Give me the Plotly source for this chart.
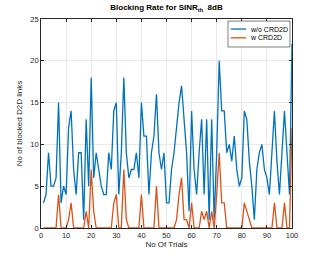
import plotly.graph_objects as go

trials = list(range(1, 101))

blocked_without = [
    3, 4, 9, 5, 5, 6, 15, 3, 5, 4,
    12, 14, 7, 4, 9, 9, 1, 13, 5, 18,
    6, 9, 7, 5, 4, 4, 9, 7, 14, 15,
    4, 9, 18, 9, 6, 7, 7, 9, 6, 15,
    11, 11, 4, 9, 11, 16, 9, 7, 9, 3,
    3, 7, 9, 12, 15, 17, 13, 9, 2, 14,
    7, 4, 9, 13, 4, 13, 1, 13, 1, 9,
    20, 14, 14, 9, 10, 8, 11, 7, 5, 6,
    14, 13, 8, 5, 1, 7, 9, 10, 7, 6,
    4, 9, 14, 8, 4, 9, 14, 9, 4, 22,
]

blocked_with = [
    0, 0, 0, 0, 0, 0, 4, 0, 0, 0,
    1, 3, 0, 0, 0, 0, 0, 2, 0, 7,
    2, 0, 0, 0, 0, 0, 0, 0, 3, 4,
    0, 0, 7, 1, 0, 0, 0, 0, 0, 4,
    0, 0, 0, 0, 0, 5, 0, 0, 0, 0,
    0, 0, 0, 1, 4, 6, 1, 1, 0, 3,
    0, 0, 0, 2, 1, 2, 0, 2, 0, 4,
    9, 3, 3, 0, 0, 0, 0, 0, 0, 0,
    3, 2, 1, 0, 0, 0, 0, 0, 0, 0,
    0, 0, 3, 0, 0, 0, 3, 0, 0, 12,
]

series_names = ["w/o CRD2D", "w CRD2D"]
series_colors = ["#0072BD", "#D95319"]

x_ticks = [0, 10, 20, 30, 40, 50, 60, 70, 80, 90, 100]
y_ticks = [0, 5, 10, 15, 20, 25]

FONT = "Liberation Sans, Arial, Helvetica, sans-serif"

fig = go.Figure()
for yvals, name, color in zip([blocked_without, blocked_with], series_names, series_colors):
    fig.add_trace(go.Scatter(x=trials, y=yvals, mode="lines", name=name,
                             line=dict(color=color, width=1.3)))

axis_common = dict(
    showline=True, mirror="ticks", linecolor="#262626", linewidth=0.8,
    ticks="inside", ticklen=3, tickwidth=0.6, tickcolor="#262626",
    showgrid=True, gridcolor="#e8e8e8", gridwidth=0.6,
    zeroline=False, automargin=False,
    tickfont=dict(family=FONT, size=7.5, color="#262626"),
)

# compact legend box drawn in paper coordinates (native legend rows are too tall)
legend_box = dict(x0=0.745, x1=0.992, y0=0.866, y1=0.990)
legend_rows_y = [0.952, 0.910]
shapes = [dict(type="rect", xref="paper", yref="paper", **legend_box,
               line=dict(color="#262626", width=0.6), fillcolor="white", layer="above")]
annotations = []
for ry, name, color in zip(legend_rows_y, series_names, series_colors):
    shapes.append(dict(type="line", xref="paper", yref="paper",
                       x0=0.756, x1=0.817, y0=ry, y1=ry,
                       line=dict(color=color, width=1.3), layer="above"))
    annotations.append(dict(text=name, xref="paper", yref="paper", x=0.826, y=ry,
                            xanchor="left", yanchor="middle", showarrow=False,
                            font=dict(family=FONT, size=7, color="black")))

fig.update_layout(
    width=321, height=256,
    margin=dict(l=41, r=29, t=19, b=28),
    paper_bgcolor="white", plot_bgcolor="white",
    title=dict(text="<b>Blocking Rate for SINR<sub>th</sub>  8dB</b>",
               x=0.5, xref="paper", xanchor="center",
               y=0.972, yref="container", yanchor="middle",
               font=dict(family=FONT, size=8, color="black")),
    xaxis=dict(range=[0, 100], tickvals=x_ticks,
               title=dict(text="No Of Trials", standoff=2,
                          font=dict(family=FONT, size=8, color="#262626")),
               **axis_common),
    yaxis=dict(range=[0, 25], tickvals=y_ticks,
               title=dict(text="No of blocked D2D links", standoff=6,
                          font=dict(family=FONT, size=8, color="#262626")),
               **axis_common),
    shapes=shapes,
    annotations=annotations,
    showlegend=False,
)

fig.write_html("out.html",
               config={"displayModeBar": False},
               post_script="document.body.style.margin='0';document.body.style.overflow='hidden';")
